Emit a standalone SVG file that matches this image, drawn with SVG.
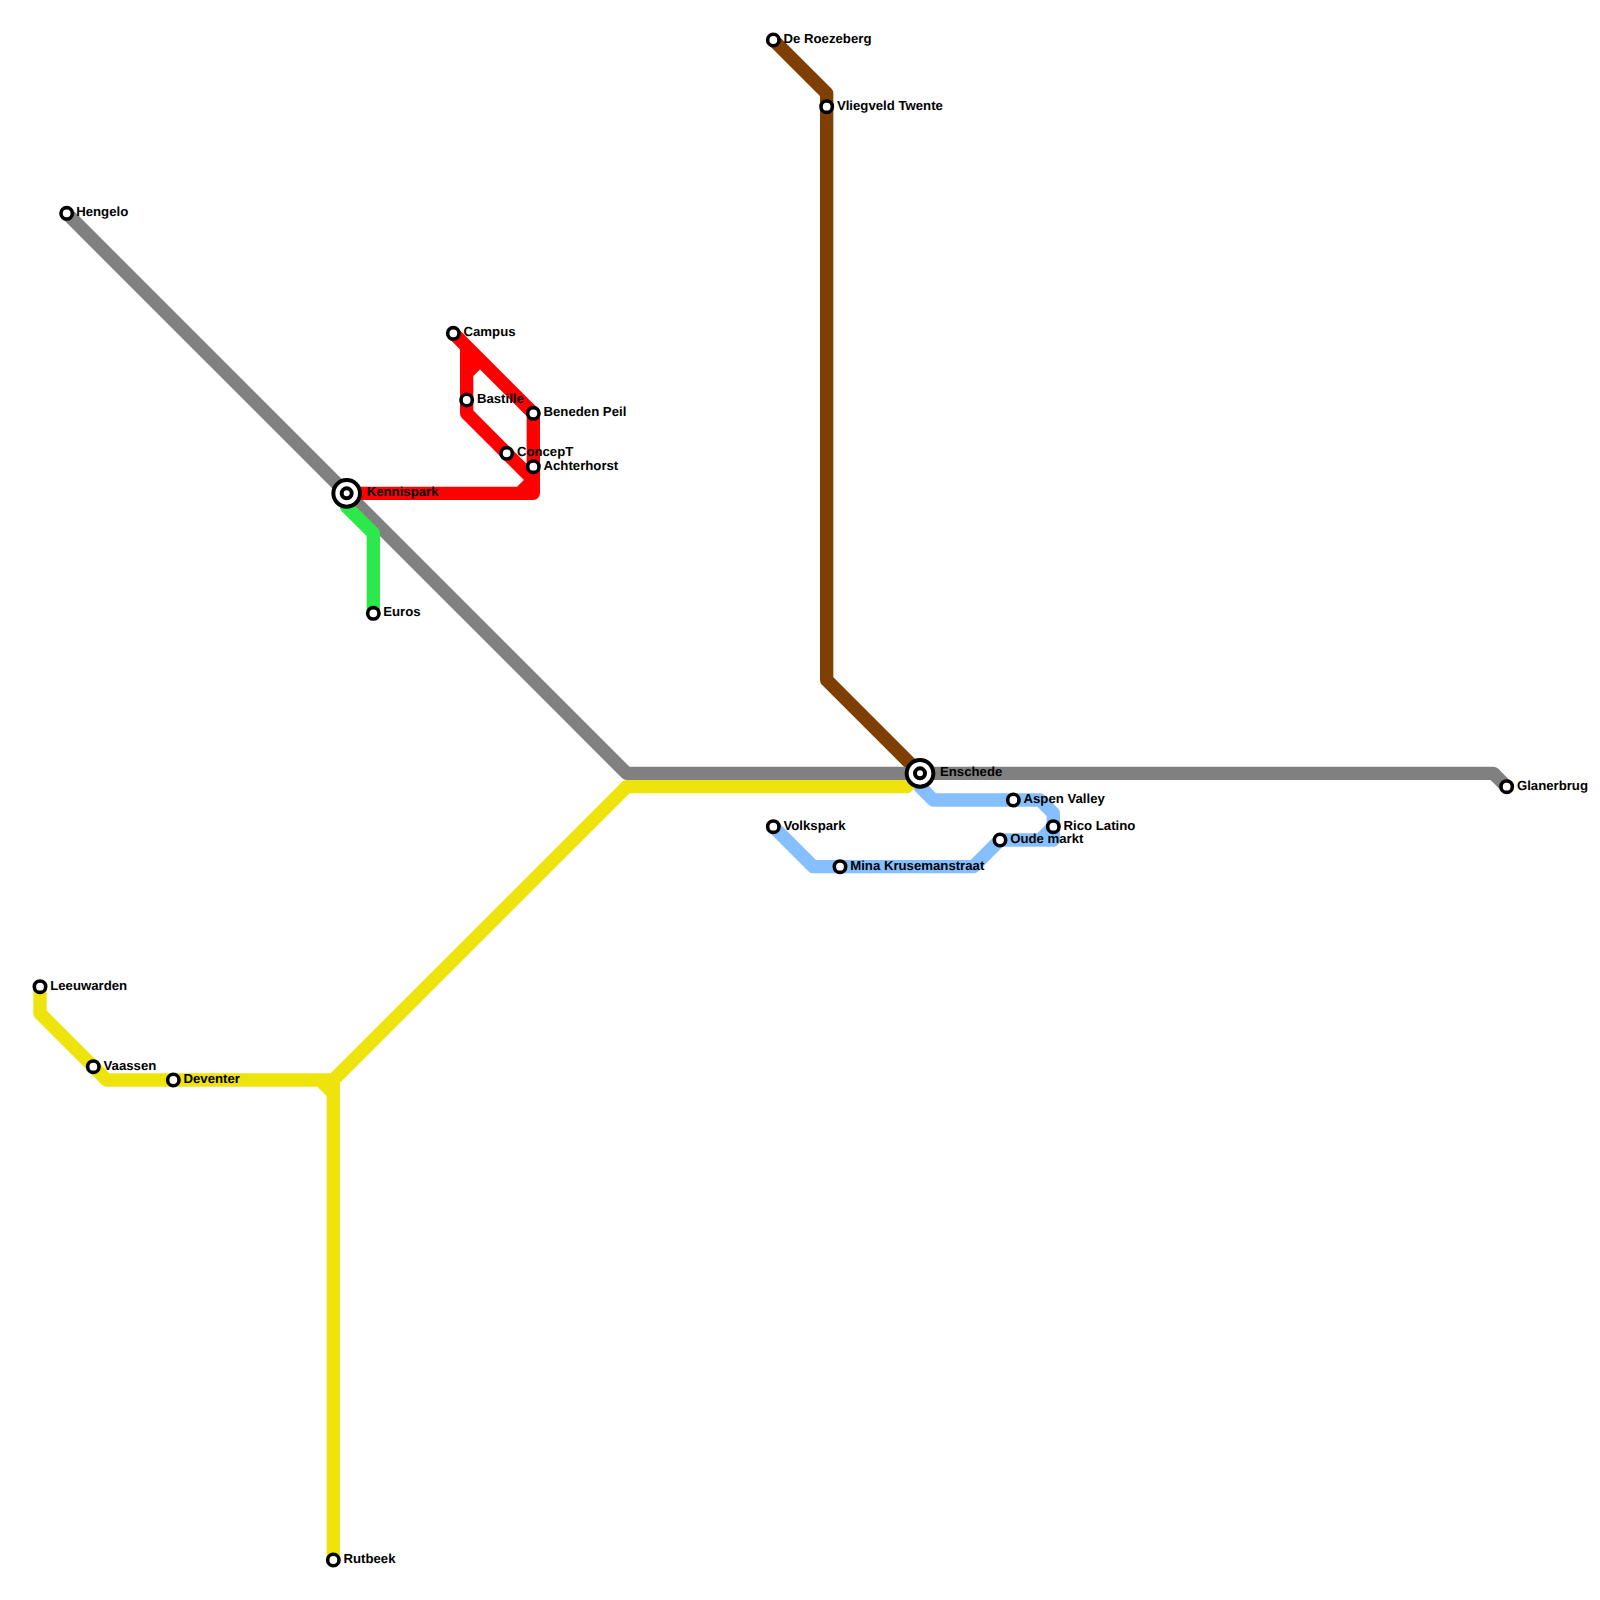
<svg xmlns="http://www.w3.org/2000/svg" width="1600" height="1600" viewBox="0 0 1600 1600">
<style>
.l{fill:none;stroke-width:13.33;stroke-linejoin:round;stroke-linecap:round}
.s{fill:#fff;stroke:#000;stroke-width:3.6}
.b{stroke-width:4}
text{font-family:"Liberation Sans",Arial,sans-serif;font-weight:bold;font-size:13.2px;fill:#000;text-rendering:geometricPrecision}
</style>
<rect width="1600" height="1600" fill="#fff"/>
<g id="connectors">
<path class="l" stroke="#85bfff" d="M773.33 826.67L813.33 866.67H973.33L1000 840H1053.33V813.33L1040 800H933.33L920 786.67V773.33M1053.33 826.67L1040 840"/>
<path class="l" stroke="#eee30c" d="M40 986.67V1013.33L106.67 1080H333.33L626.67 786.67H906.67L920 773.33M320 1080L333.33 1093.33M333.33 1080V1560"/>
<path class="l" stroke="#7f3f00" d="M773.33 40L826.67 93.33V680L920 773.33"/>
<path class="l" stroke="#808080" d="M66.67 213.33L626.67 773.33H1493.33L1506.67 786.67"/>
<path class="l" stroke="#ff0000" d="M346.67 493.33H533.33V413.33L453.33 333.33M466.67 346.67V413.33L533.33 480L520 493.33M466.67 373.33L480 360"/>
<path class="l" stroke="#2de84a" d="M346.67 493.33V506.67L373.33 533.33V613.33"/>
</g>
<g id="hengelo"><circle class="s" cx="66.67" cy="213.33" r="5.7"/><text x="76.2" y="216.4">Hengelo</text></g>
<g id="kennispark"><circle class="s b" cx="346.67" cy="493.33" r="13.33"/><circle class="s b" cx="346.67" cy="493.33" r="5"/><text x="366.7" y="496.4">Kennispark</text></g>
<g id="euros"><circle class="s" cx="373.33" cy="613.33" r="5.7"/><text x="383.2" y="616.4">Euros</text></g>
<g id="campus"><circle class="s" cx="453.33" cy="333.33" r="5.7"/><text x="463.5" y="336.4">Campus</text></g>
<g id="bastille"><circle class="s" cx="466.67" cy="400" r="5.7"/><text x="476.9" y="403.1">Bastille</text></g>
<g id="beneden-peil"><circle class="s" cx="533.33" cy="413.33" r="5.7"/><text x="543.5" y="416.4">Beneden Peil</text></g>
<g id="concept"><circle class="s" cx="506.67" cy="453.33" r="5.7"/><text x="516.9" y="456.4">ConcepT</text></g>
<g id="achterhorst"><circle class="s" cx="533.33" cy="466.67" r="5.7"/><text x="543.5" y="469.8">Achterhorst</text></g>
<g id="de-roezeberg"><circle class="s" cx="773.33" cy="40" r="5.7"/><text x="783.5" y="43.1">De Roezeberg</text></g>
<g id="vliegveld-twente"><circle class="s" cx="826.67" cy="106.67" r="5.7"/><text x="836.9" y="109.8">Vliegveld Twente</text></g>
<g id="enschede"><circle class="s b" cx="920" cy="773.33" r="13.33"/><circle class="s b" cx="920" cy="773.33" r="5"/><text x="940" y="776.4">Enschede</text></g>
<g id="glanerbrug"><circle class="s" cx="1506.67" cy="786.67" r="5.7"/><text x="1516.9" y="789.8">Glanerbrug</text></g>
<g id="aspen-valley"><circle class="s" cx="1013.33" cy="800" r="5.7"/><text x="1023.5" y="803.1">Aspen Valley</text></g>
<g id="rico-latino"><circle class="s" cx="1053.33" cy="826.67" r="5.7"/><text x="1063.5" y="829.8">Rico Latino</text></g>
<g id="oude-markt"><circle class="s" cx="1000" cy="840" r="5.7"/><text x="1010.2" y="843.1">Oude markt</text></g>
<g id="mina-krusemanstraat"><circle class="s" cx="840" cy="866.67" r="5.7"/><text x="850.2" y="869.8">Mina Krusemanstraat</text></g>
<g id="volkspark"><circle class="s" cx="773.33" cy="826.67" r="5.7"/><text x="783.5" y="829.8">Volkspark</text></g>
<g id="leeuwarden"><circle class="s" cx="40" cy="986.67" r="5.7"/><text x="50.2" y="989.8">Leeuwarden</text></g>
<g id="vaassen"><circle class="s" cx="93.33" cy="1066.67" r="5.7"/><text x="103.5" y="1069.8">Vaassen</text></g>
<g id="deventer"><circle class="s" cx="173.33" cy="1080" r="5.7"/><text x="183.5" y="1083.1">Deventer</text></g>
<g id="rutbeek"><circle class="s" cx="333.33" cy="1560" r="5.7"/><text x="343.5" y="1563.1">Rutbeek</text></g>
</svg>
